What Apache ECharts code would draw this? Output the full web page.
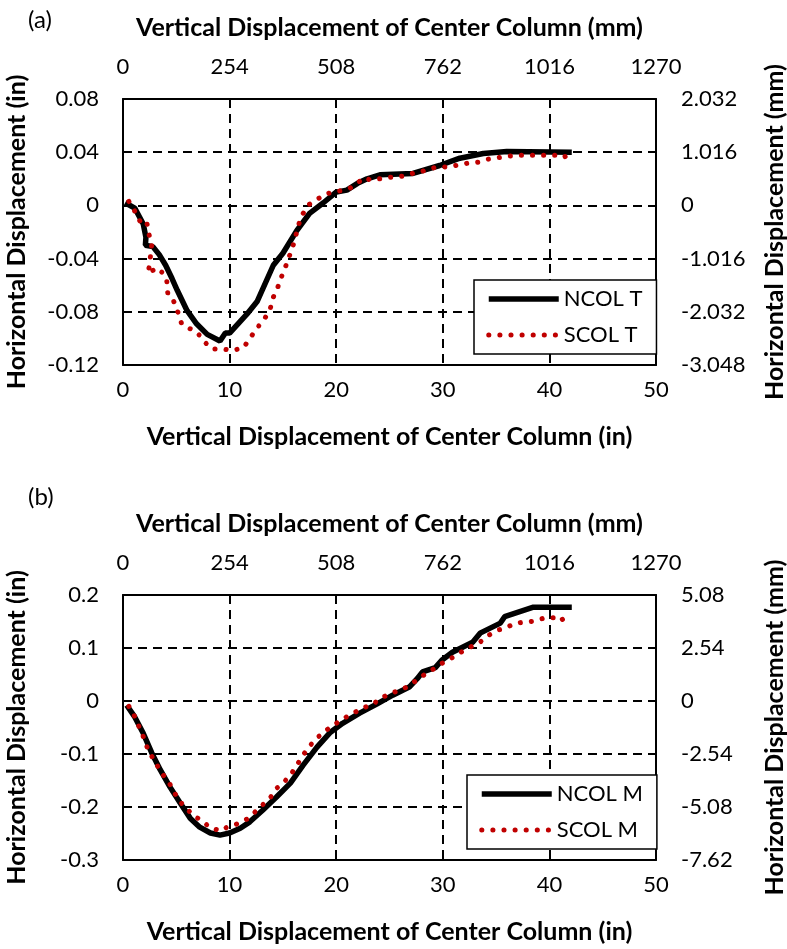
<!DOCTYPE html>
<html>
<head>
<meta charset="utf-8">
<script src="https://cdn.jsdelivr.net/npm/echarts@6/dist/echarts.min.js"></script>
<style>html,body{margin:0;padding:0;background:#fff;}#c{width:787px;height:949px;}</style>
</head>
<body>
<div id="c"></div>
<script>
// ---- data (x: vertical displacement in, y: horizontal displacement in) ----
const ncolT = [[0.2,0.002],[1.1,-0.002],[1.9,-0.014],[2.15,-0.024],[2.1,-0.030],[2.8,-0.031],[3.4,-0.037],[4.0,-0.045],[4.6,-0.055],[5.1,-0.064],[6.0,-0.079],[6.9,-0.089],[7.9,-0.097],[9.1,-0.102],[9.6,-0.096],[10.0,-0.096],[11.6,-0.082],[12.6,-0.072],[14.1,-0.045],[15.0,-0.036],[16.3,-0.019],[17.5,-0.006],[18.8,0.002],[20.0,0.010],[21.0,0.0115],[22.0,0.0166],[22.9,0.020],[24.1,0.023],[27.2,0.024],[29.7,0.030],[31.6,0.0355],[33.8,0.039],[36.0,0.0405],[42.1,0.040]];
const scolT = [[0.55,0.003],[0.95,-0.002],[1.4,-0.009],[1.8,-0.015],[2.25,-0.0136],[2.5,-0.024],[2.7,-0.029],[2.5,-0.044],[2.35,-0.051],[3.2,-0.047],[3.75,-0.051],[4.1,-0.056],[4.2,-0.066],[4.6,-0.069],[5.1,-0.079],[5.5,-0.089],[6.1,-0.092],[6.9,-0.095],[7.7,-0.103],[8.35,-0.108],[9.3,-0.108],[10.3,-0.109],[11.3,-0.107],[11.9,-0.100],[12.6,-0.092],[13.3,-0.085],[13.8,-0.078],[14.1,-0.069],[14.5,-0.062],[14.9,-0.053],[15.3,-0.045],[15.7,-0.036],[16.0,-0.029],[16.3,-0.020],[16.6,-0.011],[16.9,-0.006],[17.5,0.001],[18.5,0.006],[19.2,0.009],[20.4,0.011],[21.3,0.013],[22.0,0.017],[22.7,0.021],[23.2,0.019],[24.1,0.020],[25.0,0.021],[26.2,0.022],[26.7,0.0234],[27.9,0.025],[28.5,0.027],[29.4,0.0287],[30.5,0.029],[31.2,0.030],[32.3,0.0317],[33.3,0.0325],[34.2,0.0347],[35.3,0.036],[36.2,0.037],[37.3,0.0377],[41.4,0.0377],[41.9,0.031]];
const ncolM = [[0.35,-0.008],[1.1,-0.030],[1.9,-0.061],[2.7,-0.098],[3.5,-0.130],[4.4,-0.162],[5.35,-0.192],[6.3,-0.221],[7.2,-0.238],[8.2,-0.249],[9.1,-0.253],[10.0,-0.249],[11.0,-0.240],[11.9,-0.228],[13.1,-0.206],[14.4,-0.181],[15.7,-0.155],[16.9,-0.121],[18.2,-0.087],[19.4,-0.060],[20.6,-0.042],[22.2,-0.023],[23.8,-0.006],[25.3,0.011],[26.9,0.027],[27.6,0.042],[28.1,0.055],[29.3,0.063],[29.9,0.077],[30.9,0.092],[32.8,0.111],[33.5,0.128],[35.4,0.147],[35.8,0.159],[38.5,0.177],[42.1,0.177]];
const scolM = [[0.55,-0.010],[1.0,-0.025],[1.9,-0.067],[2.35,-0.092],[3.0,-0.115],[3.65,-0.136],[4.4,-0.157],[5.2,-0.187],[6.0,-0.203],[6.6,-0.217],[7.4,-0.225],[8.2,-0.240],[9.3,-0.245],[9.75,-0.238],[10.7,-0.232],[11.6,-0.223],[12.4,-0.209],[13.2,-0.194],[14.0,-0.178],[14.4,-0.165],[15.2,-0.151],[15.9,-0.134],[16.5,-0.115],[16.9,-0.102],[17.5,-0.085],[18.3,-0.068],[19.0,-0.056],[19.8,-0.045],[20.6,-0.034],[21.6,-0.023],[22.5,-0.013],[23.5,-0.006],[24.0,0.004],[25.0,0.013],[26.0,0.021],[26.6,0.026],[27.6,0.040],[28.5,0.053],[29.1,0.060],[30.0,0.072],[31.0,0.083],[31.6,0.091],[32.6,0.102],[33.5,0.111],[34.2,0.123],[35.2,0.134],[35.9,0.138],[36.8,0.147],[37.9,0.149],[38.6,0.151],[39.6,0.157],[40.7,0.157],[41.0,0.151],[41.8,0.162]];

const xInRange = [0, 50, 10];          // min, max, interval (in)
const xMmRange = [0, 1270, 254];        // (mm)
const yInA = [-0.12, 0.08, 0.04];
const yMmA = [-3.048, 2.032, 1.016];
const yInB = [-0.3, 0.2, 0.1];
const yMmB = [-7.62, 5.08, 2.54];
const seriesNames = ['NCOL T', 'SCOL T', 'NCOL M', 'SCOL M'];
const panelLabels = ['(a)', '(b)'];
const xTitleIn = 'Vertical Displacement of Center Column (in)';
const xTitleMm = 'Vertical Displacement of Center Column (mm)';
const yTitleIn = 'Horizontal Displacement (in)';
const yTitleMm = 'Horizontal Displacement (mm)';

const FONT = 'Lato';
const TICK = 22, TITLE = 25;
const lbl = (extra) => Object.assign({color:'#000', fontFamily:FONT, fontSize:TICK}, extra||{});
const axLine = {show:true, onZero:false, lineStyle:{color:'#000', width:2}};
const grid = {show:true, lineStyle:{color:'#000', width:2, type:[9,6]}, showMinLine:false, showMaxLine:false};
const nameStyle = {color:'#000', fontFamily:FONT, fontSize:TITLE, fontWeight:'bold'};
const round = v => String(Math.round(v*1000)/1000);

function xAxes(g){
  return [
    {gridIndex:g, type:'value', position:'bottom', min:xInRange[0], max:xInRange[1], interval:xInRange[2],
     axisLine:axLine, axisTick:{show:false}, splitLine:grid, axisLabel:lbl({margin:14, formatter:round}),
     name:xTitleIn, nameLocation:'middle', nameGap:59, nameTextStyle:nameStyle},
    {gridIndex:g, type:'value', position:'top', min:xMmRange[0], max:xMmRange[1], interval:xMmRange[2],
     axisLine:axLine, axisTick:{show:false}, splitLine:{show:false}, axisLabel:lbl({margin:21, formatter:round}),
     name:xTitleMm, nameLocation:'middle', nameGap:59, nameTextStyle:nameStyle}
  ];
}
function yAxes(g, yin, ymm){
  return [
    {gridIndex:g, type:'value', position:'left', min:yin[0], max:yin[1], interval:yin[2],
     axisLine:axLine, axisTick:{show:false}, splitLine:grid, axisLabel:lbl({margin:24, formatter:round}),
     name:yTitleIn, nameLocation:'middle', nameGap:94, nameTextStyle:nameStyle},
    {gridIndex:g, type:'value', position:'right', min:ymm[0], max:ymm[1], interval:ymm[2],
     axisLine:axLine, axisTick:{show:false}, splitLine:{show:false}, axisLabel:lbl({margin:25, formatter:round}),
     name:yTitleMm, nameLocation:'middle', nameGap:106, nameTextStyle:nameStyle}
  ];
}
function blackSeries(name, data, xi, yi){
  return {name, type:'line', xAxisIndex:xi, yAxisIndex:yi, data, symbol:'none',
    lineStyle:{color:'#000', width:5.5}, itemStyle:{color:'#000'}, z:2};
}
function redSeries(name, data, xi, yi){
  return {name, type:'line', xAxisIndex:xi, yAxisIndex:yi, data, symbol:'none',
    lineStyle:{color:'#C00000', width:5, type:[0.1, 11], cap:'round'}, itemStyle:{color:'#C00000'}, z:3};
}
function legend(names, left, top){
  return {data:names, orient:'vertical', left, top, itemWidth:70, itemHeight:14, itemGap:14,
    padding:[8,14,8,12], borderColor:'#000', borderWidth:1.5, backgroundColor:'#fff', borderRadius:0,
    itemStyle:{opacity:0},
    lineStyle:{width:'inherit', type:'inherit', cap:'inherit', color:'inherit'},
    textStyle:{color:'#000', fontFamily:FONT, fontSize:22}};
}

const chart = echarts.init(document.getElementById('c'), null, {renderer:'canvas'});
chart.setOption({
  animation:false,
  backgroundColor:'#fff',
  title:[
    {text:panelLabels[0], left:23, top:3, textStyle:{color:'#000', fontFamily:FONT, fontSize:24, fontWeight:'normal'}},
    {text:panelLabels[1], left:23, top:480, textStyle:{color:'#000', fontFamily:FONT, fontSize:24, fontWeight:'normal'}}
  ],
  grid:[
    {left:123, top:99, width:533, height:266, containLabel:false, outerBoundsMode:'none'},
    {left:123, top:595, width:533, height:265, containLabel:false, outerBoundsMode:'none'}
  ],
  xAxis:[...xAxes(0), ...xAxes(1)],
  yAxis:[...yAxes(0, yInA, yMmA), ...yAxes(1, yInB, yMmB)],
  legend:[legend([seriesNames[0], seriesNames[1]], 474, 280), legend([seriesNames[2], seriesNames[3]], 467, 775)],
  series:[
    blackSeries(seriesNames[0], ncolT, 0, 0),
    redSeries(seriesNames[1], scolT, 0, 0),
    blackSeries(seriesNames[2], ncolM, 2, 2),
    redSeries(seriesNames[3], scolM, 2, 2)
  ]
});
</script>
</body>
</html>
